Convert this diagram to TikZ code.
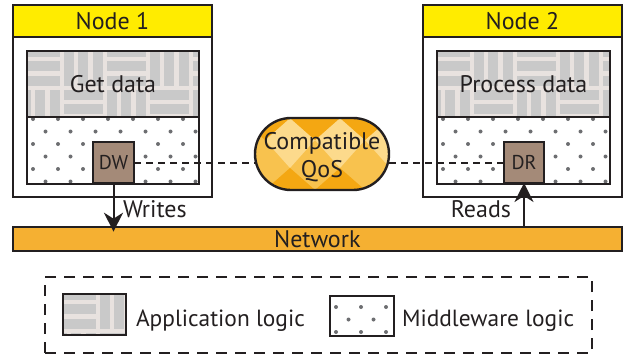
\documentclass[tikz,border=0pt]{standalone}
\usepackage{fontspec}
\setmainfont{PT Sans}
\usetikzlibrary{arrows.meta,shapes.misc}
\definecolor{ink}{HTML}{231F20}
\definecolor{hdr}{HTML}{FFEC00}
\definecolor{weavebg}{HTML}{E8E2DF}
\definecolor{weavebar}{HTML}{C9C9C9}
\definecolor{dotc}{HTML}{6D6E71}
\definecolor{dwfill}{HTML}{A48A78}
\definecolor{netfill}{HTML}{F5B032}
\definecolor{qosmid}{HTML}{F8C24E}
\definecolor{qosdark}{HTML}{F4A712}
\definecolor{qoslight}{HTML}{FCDA8C}

% basket-weave fill (application logic)
\newcommand\weavefill[2]{%
  \fill[weavebg] (#1,#2) rectangle ++(240,100);
  \foreach \i in {0,...,5}{\foreach \j in {0,1}{%
    \pgfmathtruncatemacro\wpar{mod(\i+\j,2)}%
    \ifnum\wpar=0
      \foreach \k in {0,1,2}{\fill[weavebar] ({#1+\i*43+2},{#2+\j*43+2+\k*14.33}) rectangle ++(39,10);}%
    \else
      \foreach \k in {0,1,2}{\fill[weavebar] ({#1+\i*43+2+\k*14.33},{#2+\j*43+2}) rectangle ++(10,39);}%
    \fi}}}
% dotted fill (middleware logic)
\newcommand\mwdotfill[2]{%
  \foreach \r in {0,...,6}{\foreach \c in {0,...,7}{%
    \fill[dotc] ({#1+12.5*mod(\r,2)+25*\c},{#2+12.5*\r}) circle (2);}}}

\begin{document}
\begin{tikzpicture}[x=1pt,y=-1pt,
  every node/.style={inner sep=0pt, outer sep=0pt, text=ink},
  mainfont/.style={font=\fontsize{24}{28}\selectfont},
  capbox/.style={text height=16.8pt, text depth=0pt},
  outerbox/.style={draw=ink, line width=2pt, rectangle},
  header/.style={draw=ink, line width=2pt, fill=hdr, rectangle, mainfont, capbox},
  layerbox/.style={draw=ink, line width=2.4pt, rectangle},
  endpoint/.style={draw=ink, line width=2.4pt, fill=dwfill, rectangle,
    font=\fontsize{20}{22}\selectfont, text height=14pt, text depth=0pt},
  link/.style={ink, line width=2pt, dash pattern=on 7pt off 5pt},
  arr/.style={ink, line width=2pt, -{Stealth[length=19pt,width=19pt,inset=6pt]}},
  legendfont/.style={font=\fontsize{23.4}{28}\selectfont},
]
\useasboundingbox (0,0) rectangle (623,356);

% ---------- Node 1 ----------
\node[outerbox, minimum width=199pt, minimum height=192pt] (n1) at (112.5,101) {};
\node[header, minimum width=199pt, minimum height=32pt] (h1) at (112.5,21) {Node 1};
\begin{scope}
  \clip (27,51) rectangle (199,117);
  \weavefill{19}{45}
\end{scope}
\node[layerbox, mainfont, capbox, minimum width=172pt, minimum height=66pt] (app1) at (113,84) {Get data};
\begin{scope}
  \clip (27,117) rectangle (199,184);
  \mwdotfill{33}{119}
\end{scope}
\node[layerbox, minimum width=172pt, minimum height=67pt] (mw1) at (113,150.5) {};
\node[endpoint, minimum width=41pt, minimum height=41pt] (dw) at (113.5,162.5) {DW};

% ---------- Node 2 ----------
\node[outerbox, minimum width=199pt, minimum height=192pt] (n2) at (522.5,101) {};
\node[header, minimum width=199pt, minimum height=32pt] (h2) at (522.5,21) {Node 2};
\begin{scope}
  \clip (437,51) rectangle (610,117);
  \weavefill{429}{45}
\end{scope}
\node[layerbox, mainfont, capbox, minimum width=173pt, minimum height=66pt] (app2) at (523.5,84) {Process data};
\begin{scope}
  \clip (437,117) rectangle (610,184);
  \mwdotfill{443}{119}
\end{scope}
\node[layerbox, minimum width=173pt, minimum height=67pt] (mw2) at (523.5,150.5) {};
\node[endpoint, minimum width=40pt, minimum height=41pt] (dr) at (524,162.5) {DR};

% ---------- Compatible QoS ----------
\begin{scope}
  \clip[rounded corners=35.9pt] (255,118) rectangle (389,190);
  \fill[qosmid] (255,118) rectangle (389,190);
  \foreach \c in {0,...,3}{
    \fill[qoslight] ({240+\c*50+25},140) -- ({240+\c*50+50},118) -- ({240+\c*50+75},140) -- ({240+\c*50+50},168) -- cycle;
    \fill[qosdark] ({240+\c*50},118) -- ({290+\c*50},118) -- ({265+\c*50},140) -- cycle;
    \fill[qosdark] ({265+\c*50},190) -- ({315+\c*50},190) -- ({290+\c*50},168) -- cycle;
  }
\end{scope}
\node[draw=ink, line width=2.4pt, rounded rectangle, minimum width=134pt, minimum height=72pt] (qos) at (322,154) {};
\node[mainfont, align=center] (qostext) at ([yshift=-3pt]qos.center) {Compatible\\QoS};

\draw[link] (dw.east) -- (dw.east -| qos.west);
\draw[link] (dr.west -| qos.east) -- (dr.west);

% ---------- Network ----------
\node[draw=ink, line width=2.4pt, fill=netfill, rectangle, mainfont, capbox,
      minimum width=609pt, minimum height=24pt] (net) at (317.3,238.7) {Network};

\draw[arr, shorten >=-5pt] (dw.south) -- (dw.south |- net.north);
\draw[arr] (dr.south |- net.north) -- (dr.south);
\node[mainfont, anchor=base west] (wr) at (123,217.3) {Writes};
\node[mainfont, anchor=base east] (rd) at (511,217.3) {Reads};

% ---------- Legend ----------
\node[draw=ink, line width=2pt, dash pattern=on 11pt off 8pt, rectangle,
      minimum width=547pt, minimum height=76pt] (legend) at (318.5,315) {};
\begin{scope}
  \clip (63,294) rectangle (126,335);
  \weavefill{55}{288}
\end{scope}
\node[layerbox, minimum width=63pt, minimum height=41pt] (lapp) at (94.5,314.5) {};
\node[legendfont, anchor=base west] (lapptext) at (136,326.5) {Application logic};
\begin{scope}
  \clip (330,296) rectangle (394,336);
  \mwdotfill{336}{307}
\end{scope}
\node[layerbox, minimum width=64pt, minimum height=40pt] (lmw) at (362,316) {};
\node[legendfont, anchor=base west] (lmwtext) at (402,326.5) {Middleware logic};
\end{tikzpicture}
\end{document}
